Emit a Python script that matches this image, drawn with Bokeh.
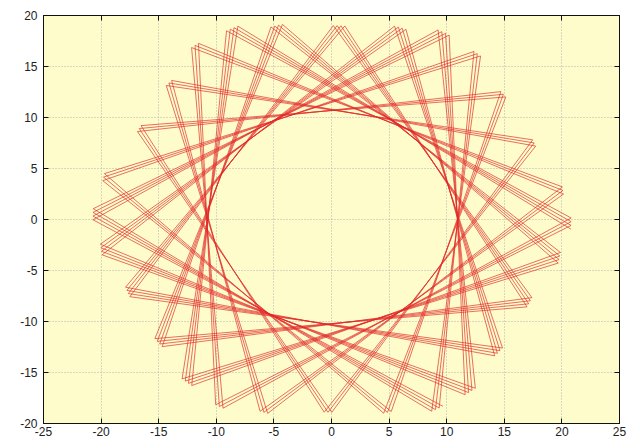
import numpy as np
from bokeh.plotting import figure
from bokeh.models import LinearAxis, Range1d, FixedTicker, ColumnDataSource, CustomLabelingPolicy
from bokeh.embed import file_html
from bokeh.resources import INLINE

# Outer vertex clusters of the polygon path, counterclockwise
cluster_x = [20.8, 20.1, 17.6, 14.9, 12.6, 9.8, 6.0, 0.65, -4.8, -8.7, -11.8, -14.1, -16.7, -19.8,
             -20.7, -20.0, -17.7, -15.0, -12.5, -9.8, -5.9, -0.3, 4.9, 9.1, 12.0, 14.5, 17.2, 19.8]
cluster_y = [-0.3, 2.8, 7.5, 12.3, 16.3, 18.3, 18.8, 19.0, 19.0, 18.7, 17.1, 13.4, 8.9, 4.1,
             0.6, -2.9, -7.1, -12.1, -16.0, -18.3, -18.9, -18.9, -18.9, -18.6, -16.9, -13.0, -8.1, -3.7]
cluster_step = 9          # each segment jumps 9 clusters ahead (~116 degrees)
n_vertices = 100          # number of path vertices
drift_per_pass_deg = 1.0  # slow rotation of the path after each full pass

x_ticks = [-25, -20, -15, -10, -5, 0, 5, 10, 15, 20, 25]
y_ticks = [-20, -15, -10, -5, 0, 5, 10, 15, 20]

# build the path from the clusters
nc = len(cluster_x)
cx = np.array(cluster_x)
cy = np.array(cluster_y)
idx = np.arange(n_vertices)
k = (cluster_step * idx) % nc
ang = np.deg2rad((idx - (n_vertices - 1) / 2) * drift_per_pass_deg / nc)
px = cx[k] * np.cos(ang) - cy[k] * np.sin(ang)
py = cx[k] * np.sin(ang) + cy[k] * np.cos(ang)
src = ColumnDataSource(dict(x=px, y=py))

p = figure(width=632, height=440, x_range=Range1d(-25, 25), y_range=Range1d(-20, 20),
           output_backend="svg", toolbar_location=None,
           background_fill_color="#fdfcca", border_fill_color="white",
           min_border_left=43, min_border_right=13, min_border_top=15, min_border_bottom=17)
p.outline_line_color = "#111111"
p.outline_line_width = 1

p.line("x", "y", source=src, line_color="#e22a2a", line_width=0.75, line_alpha=0.9)

font = "Liberation Sans"
for ax in (p.xaxis[0], p.yaxis[0]):
    ax.major_tick_in = 5
    ax.major_tick_out = 0
    ax.minor_tick_line_color = None
    ax.axis_line_color = "#111111"
    ax.major_tick_line_color = "#111111"
    ax.major_label_text_font = font
    ax.major_label_text_font_size = "12px"
    ax.major_label_text_color = "#222222"
p.xaxis[0].ticker = FixedTicker(ticks=x_ticks)
p.yaxis[0].ticker = FixedTicker(ticks=y_ticks)
p.xaxis[0].major_label_overrides = {t: str(t) for t in x_ticks}
p.yaxis[0].major_label_overrides = {t: str(t) for t in y_ticks}
p.xaxis[0].major_label_standoff = 3
p.yaxis[0].major_label_standoff = 6

hide_labels = CustomLabelingPolicy(code="return new Set()")
top = LinearAxis(ticker=FixedTicker(ticks=x_ticks))
right = LinearAxis(ticker=FixedTicker(ticks=y_ticks))
for ax in (top, right):
    ax.major_tick_in = 5
    ax.major_tick_out = 0
    ax.minor_tick_line_color = None
    ax.axis_line_color = "#111111"
    ax.major_tick_line_color = "#111111"
    ax.major_label_policy = hide_labels
    ax.major_label_text_font_size = "1px"
    ax.major_label_standoff = 0
p.add_layout(top, "above")
p.add_layout(right, "right")

p.xgrid.ticker = FixedTicker(ticks=x_ticks)
p.ygrid.ticker = FixedTicker(ticks=y_ticks)
p.grid.grid_line_color = "#b4b4b4"
p.grid.grid_line_dash = "1 2"
p.grid.grid_line_width = 1

open("out.html", "w").write(file_html(p, INLINE))
